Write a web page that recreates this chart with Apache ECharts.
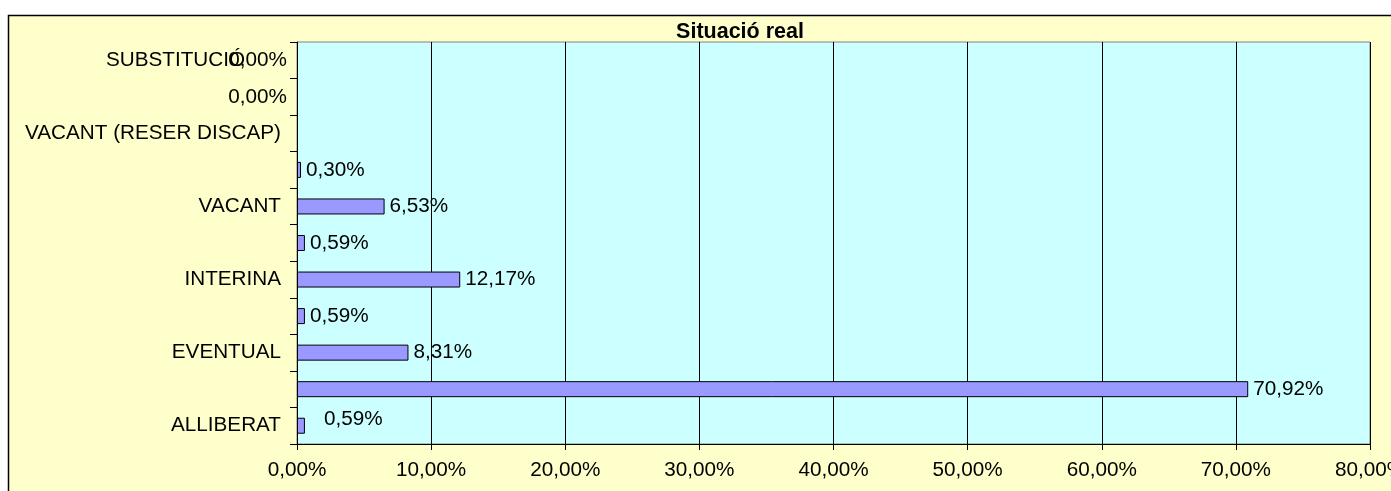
<!DOCTYPE html>
<html>
<head>
<meta charset="utf-8">
<script src="https://cdn.jsdelivr.net/npm/echarts@6/dist/echarts.min.js"></script>
<style>
  html, body { margin: 0; padding: 0; background: #fff; }
  #chart { width: 1391px; height: 491px; }
</style>
</head>
<body>
<div id="chart"></div>
<script>
// categories from bottom to top (blank rows have no label in the original)
var categories = ['ALLIBERAT', '', 'EVENTUAL', '', 'INTERINA', '', 'VACANT', '', 'VACANT (RESER DISCAP)', '', 'SUBSTITUCIÓ'];
var values = [0.59, 70.92, 8.31, 0.59, 12.17, 0.59, 6.53, 0.30, null, 0, 0];
var xTicks = [0, 10, 20, 30, 40, 50, 60, 70, 80];

var FONT = "'Liberation Sans', Arial, sans-serif";
var FS = 20.7;

function pct(v) {
  return v.toFixed(2).replace('.', ',') + '%';
}

var chart = echarts.init(document.getElementById('chart'));

var yData = categories.map(function(c) {
  if (c === 'SUBSTITUCIÓ') {
    // excel put this one a bit more to the left
    return { value: c, textStyle: { padding: [0, 36, 0, 0] } };
  }
  return c;
});

var barData = values.map(function(v, i) {
  if (v === null) return { value: '-' };
  var item = { value: v };
  if (v === 0) {
    item.itemStyle = { borderWidth: 0, color: 'transparent' };
    item.label = { position: 'left', distance: 10 };
  } else if (i === 0) {
    item.label = { offset: [14, -6] };
  }
  return item;
});

var option = {
  backgroundColor: '#fff',
  animation: false,
  textStyle: { fontFamily: FONT },
  graphic: [
    {
      type: 'rect',
      shape: { x: 8.5, y: 15.5, width: 1470, height: 500 },
      style: { fill: '#FFFFCC', stroke: '#000', lineWidth: 1.5 },
      z: -10
    },
    {
      type: 'text',
      x: 740,
      y: 32,
      style: {
        text: 'Situació real',
        fontFamily: FONT,
        fontWeight: 'bold',
        fontSize: 21.5,
        fill: '#000',
        align: 'center',
        verticalAlign: 'middle'
      }
    }
  ],
  grid: {
    left: 297,
    top: 42,
    width: 1073,
    height: 402,
    outerBoundsMode: 'none',
    show: true,
    backgroundColor: '#CCFFFF',
    borderColor: '#808080',
    borderWidth: 1
  },
  xAxis: {
    type: 'value',
    min: xTicks[0],
    max: xTicks[xTicks.length - 1],
    interval: 10,
    axisLine: { show: true, lineStyle: { color: '#000', width: 1 } },
    axisTick: { show: true, length: 6, lineStyle: { color: '#000' } },
    axisLabel: {
      color: '#000',
      fontSize: FS,
      fontFamily: FONT,
      margin: 16,
      formatter: function(v) { return pct(v); }
    },
    splitLine: { show: true, lineStyle: { color: '#000', width: 1 } }
  },
  yAxis: {
    type: 'category',
    data: yData,
    axisLine: { show: true, lineStyle: { color: '#000', width: 1 } },
    axisTick: { show: true, length: 7, lineStyle: { color: '#000' } },
    axisLabel: {
      color: '#000',
      fontSize: FS,
      fontFamily: FONT,
      margin: 16,
      interval: 0
    },
    splitLine: { show: false }
  },
  series: [{
    type: 'bar',
    data: barData,
    barWidth: 16,
    itemStyle: { color: '#9999FF', borderColor: '#000', borderWidth: 1 },
    label: {
      show: true,
      position: 'right',
      distance: 5,
      color: '#000',
      fontSize: FS,
      fontFamily: FONT,
      formatter: function(p) { return pct(p.value); }
    }
  }]
};

chart.setOption(option);
</script>
</body>
</html>
